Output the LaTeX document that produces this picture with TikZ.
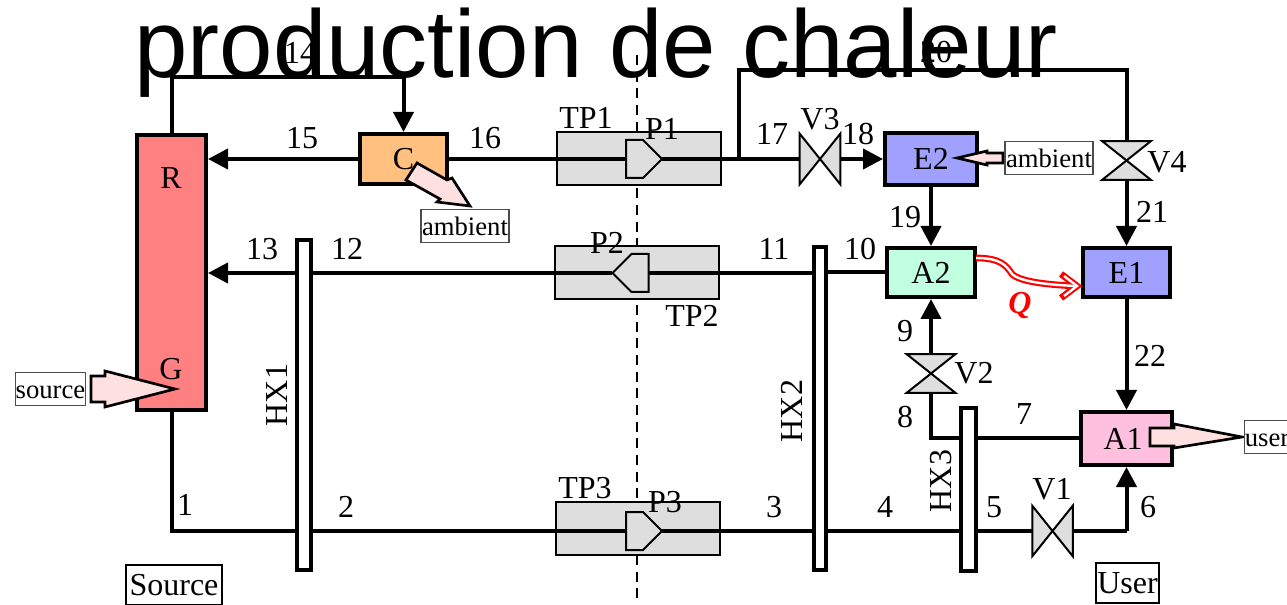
\documentclass[tikz,border=0pt]{standalone}
\usepackage{fontspec}
\setmainfont{Liberation Serif}
\newfontfamily\titlefont{Liberation Sans}
\usetikzlibrary{arrows.meta}
\definecolor{genred}{RGB}{255, 128, 128}
\definecolor{condorange}{RGB}{255, 192, 128}
\definecolor{evapblue}{RGB}{160, 160, 255}
\definecolor{absgreen}{RGB}{192, 255, 224}
\definecolor{abspink}{RGB}{255, 192, 224}
\definecolor{heatpink}{RGB}{255, 224, 224}
\definecolor{partgray}{RGB}{222, 222, 222}
\newcommand{\labelsize}{\fontsize{24}{28}\selectfont}
\newcommand{\tagsize}{\fontsize{20}{24}\selectfont}
\tikzset{
    pipe/.style={line width=3pt},
    flow/.style={pipe, -{Triangle[length=15pt, width=15pt]}},
    partbody/.style={draw, fill=partgray, line width=1.5pt},
    heatbody/.style={draw, fill=heatpink, line width=2pt},
    tagbox/.style={draw=black!70, line width=0.8pt, fill=white, font=\tagsize, inner sep=0pt, text height=14.5pt, text depth=0pt},
    sidebox/.style={draw, line width=1.5pt, inner sep=0pt, font=\labelsize}
}

\begin{document}
\begin{tikzpicture}[x=0.75pt, y=-0.75pt, every node/.style={font=\labelsize, inner sep=0pt}]
    \useasboundingbox (0,0) rectangle (1287,605);

    % Divide between the two pressure levels
    \draw[line width=1.5pt, dash pattern=on 7.5pt off 5pt] (637,55) -- (637,603);

    % Turbine and pump casings
    \foreach \n/\x/\y/\w in {tpa/639/159/164, tpb/637/273/164, tpc/637.5/528/164} {
        \node[partbody, minimum width=\w*0.75pt, minimum height=39.75pt] (\n) at (\x,\y) {};
    }

    % Pumps, d gives the direction of the point
    \foreach \n/\x/\y/\d in {pumpa/644/159/1, pumpb/630.5/273/-1, pumpc/644/531/1} {
        \node[minimum width=27pt, minimum height=28.5pt] (\n) at (\x,\y) {};
        \draw[partbody] (\x-18*\d,\y-19) -- (\x-1*\d,\y-19) -- (\x+18*\d,\y) -- (\x-1*\d,\y+19) -- (\x-18*\d,\y+19) -- cycle;
    }

    % Valves lying along the pipe
    \foreach \n/\x/\y in {vc/820/159, va/1052.5/531} {
        \node[minimum width=30pt, minimum height=37.5pt] (\n) at (\x,\y) {};
    }

    % Valves standing on the pipe
    \foreach \n/\x/\y in {vd/1126.5/160.5, vb/931/373.5} {
        \node[minimum width=36pt, minimum height=28.5pt] (\n) at (\x,\y) {};
    }

    % Heat exchangers
    \foreach \n/\x/\y/\w/\h in {hxa/304/405/14/330, hxb/820/408.5/12/323, hxc/968.5/489.5/15/163} {
        \node[draw, pipe, fill=white, minimum width=\w*0.75pt, minimum height=\h*0.75pt] (\n) at (\x,\y) {};
    }

    % Main components
    \node[draw, pipe, fill=genred, minimum width=51.75pt, minimum height=206.25pt] (gen) at (171.5,272.5) {};
    \foreach \n/\x/\y/\w/\h/\c/\t in {cond/403.5/159/87/50/condorange/C, evb/931/159/92/52/evapblue/E2,
        absb/931/272.5/88/49/absgreen/A2, eva/1126.5/272.5/87/49/evapblue/E1, absa/1126.5/438.5/91/53/abspink/A1\kern5pt} {
        \node[draw, pipe, fill=\c, minimum width=\w*0.75pt, minimum height=\h*0.75pt] (\n) at (\x,\y) {\t};
    }
    \node (lblR) at (171,178) {R};
    \node (lblG) at (171,369) {G};

    % Junctions
    \coordinate (jtopa) at (171.5,77);
    \coordinate (jtopb) at (403.5,77);
    \coordinate (jsplit) at (739,159);
    \coordinate (jsplittop) at (739,70);
    \coordinate (jvalvetop) at (1126.5,70);
    \coordinate (jsource) at (171.5,531);
    \coordinate (jhxc) at (931,438);
    \coordinate (juser) at (1126.5,531);
    \coordinate (qstart) at (976,258);
    \coordinate (qend) at (1077,286);

    % Pipes of the upper loop
    \draw[flow] (gen.north) -- (jtopa) -- (jtopb) -- (cond.north);
    \draw[flow] (cond.west) -- (gen.east |- cond.west);
    \draw[pipe] (cond.east) -- (pumpa.west);
    \draw[pipe] (pumpa.east) -- (jsplit);
    \draw[pipe] (jsplit) -- (vc.west);
    \draw[flow] (vc.east) -- (evb.west);
    \draw[flow] (evb.south) -- (absb.north);
    \draw[pipe] (jsplit) -- (jsplittop) -- (jvalvetop) -- (vd.north);
    \draw[flow] (vd.south) -- (eva.north);
    \draw[flow] (eva.south) -- (absa.north);

    % Pipes of the solution loop
    \draw[pipe] (absb.west) -- (hxb.east |- absb.west);
    \draw[pipe] (hxb.west |- pumpb.east) -- (pumpb.east);
    \draw[pipe] (pumpb.west) -- (hxa.east |- pumpb.west);
    \draw[flow] (hxa.west |- pumpb.west) -- (gen.east |- pumpb.west);
    \draw[pipe] (gen.south) -- (jsource) -- (hxa.west |- jsource);
    \draw[pipe] (hxa.east |- jsource) -- (pumpc.west);
    \draw[pipe] (pumpc.east) -- (hxb.west |- jsource);
    \draw[pipe] (hxb.east |- jsource) -- (hxc.west |- jsource);
    \draw[pipe] (hxc.east |- jsource) -- (va.west);
    \draw[pipe] (va.east) -- (juser);
    \draw[flow] (juser) -- (absa.south);
    \draw[pipe] (absa.west |- jhxc) -- (hxc.east |- jhxc);
    \draw[pipe] (hxc.west |- jhxc) -- (jhxc) -- (vb.south);
    \draw[flow] (vb.north) -- (absb.south);

    % Valve bodies, over the pipes
    \foreach \n in {vc, va} {
        \draw[partbody] (\n.north west) -- (\n.south east) -- (\n.north east) -- (\n.south west) -- cycle;
    }
    \foreach \n in {vd, vb} {
        \draw[partbody] (\n.north west) -- (\n.north east) -- (\n.south west) -- (\n.south east) -- cycle;
    }

    % Internal heat, red first and the white core over it
    \foreach \c/\w/\a/\b in {red/5pt/1061/274, white/1.8pt/1064/276} {
        \draw[draw=\c, line width=\w] (qstart) .. controls (1000,258) and (1006,265) .. (1012,274) .. controls (1020,282) and (1050,285) .. (qend);
        \draw[draw=\c, line width=\w] (\a,\b) -- (qend) -- (\a,572-\b);
    }
    \node[text=red, font=\labelsize\bfseries\itshape] (lblQ) at (1020,306) {Q};

    % Heat exchanged with the outside
    \draw[heatbody] (91,376) -- (105,376) -- (105,371) -- (175,389) -- (105,407) -- (105,402) -- (91,402) -- cycle;
    \draw[heatbody] (417,163) -- (447,180) -- (452,178) -- (470,206) -- (437,202) -- (440,199) -- (406,180) -- cycle;
    \draw[heatbody] (957,158) -- (987,151) -- (987,153) -- (1003,153) -- (1003,163) -- (987,163) -- (987,165) -- cycle;
    \draw[heatbody] (1150,428) -- (1174,428) -- (1174,424) -- (1242,437) -- (1174,448) -- (1174,446) -- (1150,446) -- cycle;

    % Outside tags
    \foreach \n/\x/\y/\w/\t in {tagamba/465/226/88/ambient, tagambb/1049/158/88/ambient, tagsrc/50.5/389/69/source, taguser/1267/437/44/user} {
        \node[tagbox, minimum width=\w*0.75pt, minimum height=25pt] (\n) at (\x,\y) {\t};
    }
    \node[sidebox, minimum width=72pt, minimum height=30pt] (boxsource) at (174,585) {Source};
    \node[sidebox, minimum width=47pt, minimum height=30pt] (boxuser) at (1127.5,583) {User};

    % State numbers
    \foreach \x/\y/\t in {185/505/1, 346/507/2, 774/507/3, 885/507/4, 994/507/5, 1148/507/6, 1024/414/7, 905/417/8, 905/331/9,
        860/249/10, 774/249/11, 347/249/12, 262/249/13, 300/53/14, 302/138/15, 485/138/16, 772/134/17, 858/134/18, 905/217/19,
        936/52/20, 1152/212/21, 1150/356/22} {
        \node (st\t) at (\x,\y) {\t};
    }

    % Part names
    \foreach \x/\y/\t in {586/118/TP1, 692/316/TP2, 585/488/TP3, 662/129/P1, 607/243/P2, 665/502/P3,
        1052/489/V1, 974/373/V2, 820/119/V3, 1167/162/V4} {
        \node (name\t) at (\x,\y) {\t};
    }
    \node[rotate=90] (nameHXa) at (277,395) {HX1};
    \node[rotate=90] (nameHXb) at (792,411) {HX2};
    \node[rotate=90] (nameHXc) at (941,481) {HX3};

    % Title
    \node[anchor=base, font=\titlefont\fontsize{72}{80}\selectfont] (title) at (596,78) {production de chaleur};
\end{tikzpicture}
\end{document}
